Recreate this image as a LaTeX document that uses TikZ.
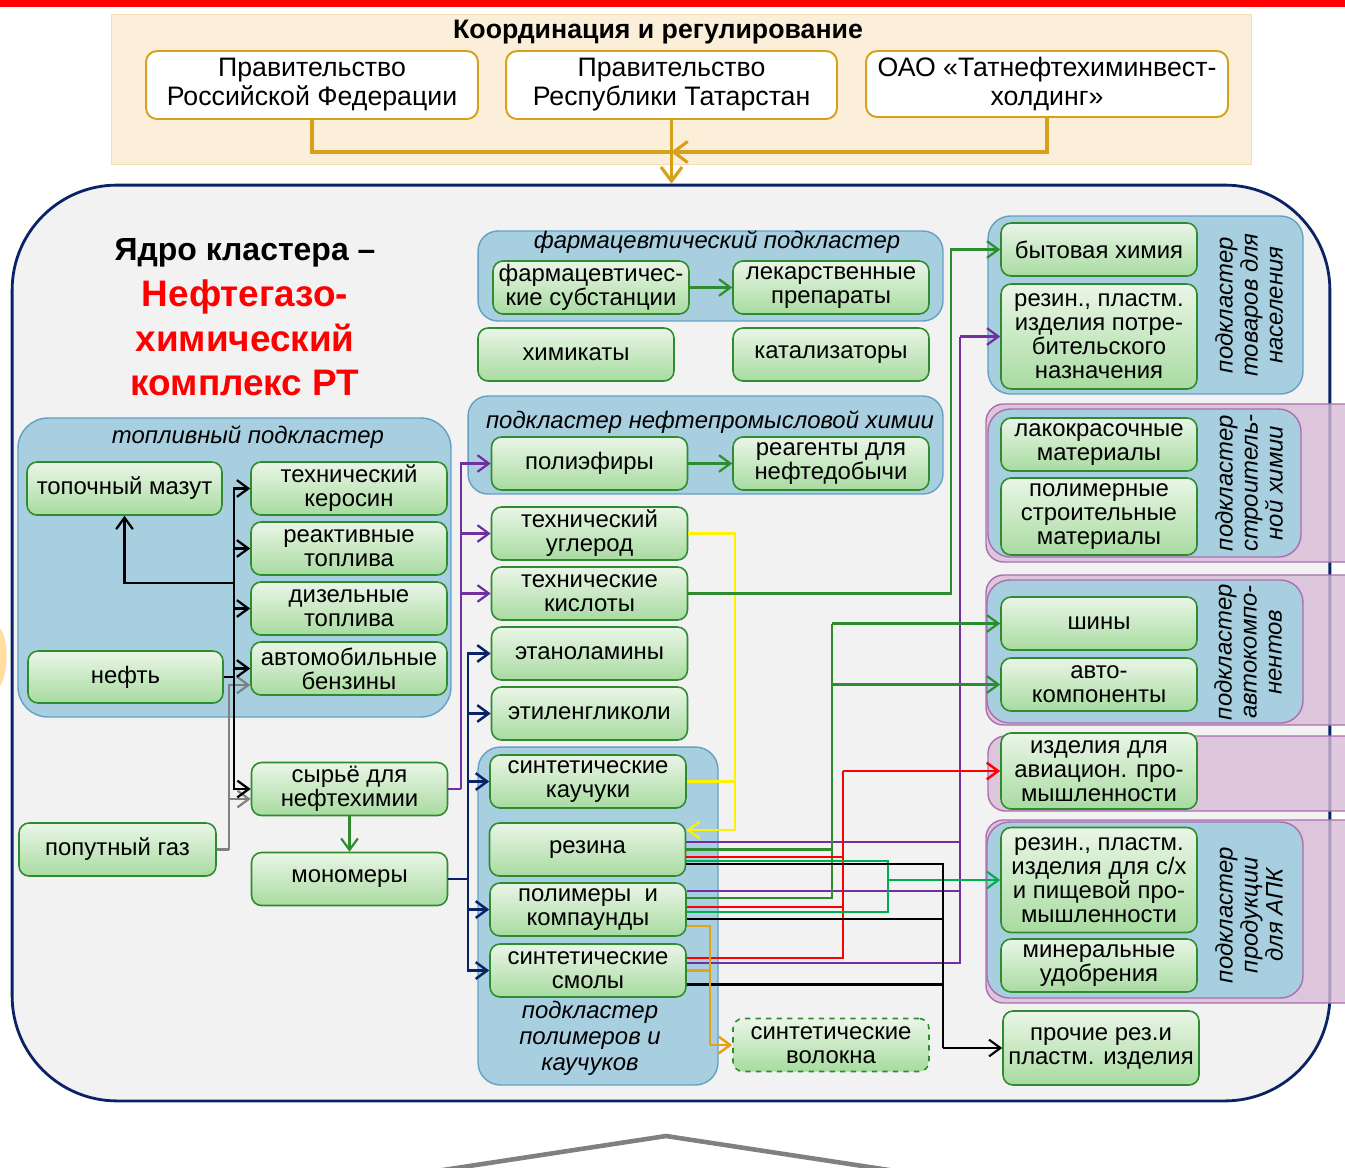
\documentclass[tikz,border=0pt]{standalone}
\usepackage{fontspec}
\setmainfont{Liberation Sans}
\usetikzlibrary{arrows.meta}

\definecolor{gold}{RGB}{214,160,26}
\definecolor{beige}{RGB}{252,239,217}
\definecolor{beigeline}{RGB}{246,222,180}
\definecolor{navy}{RGB}{10,35,100}
\definecolor{coreback}{RGB}{242,242,242}
\definecolor{subblue}{RGB}{168,207,223}
\definecolor{subline}{RGB}{100,160,195}
\definecolor{pinkpan}{RGB}{216,188,215}
\definecolor{pinkline}{RGB}{170,110,175}
\definecolor{boxline}{RGB}{46,140,46}
\definecolor{boxtop}{RGB}{234,246,231}
\definecolor{boxbot}{RGB}{168,219,160}
\definecolor{lila}{RGB}{112,48,160}
\definecolor{lgreen}{RGB}{0,176,80}
\definecolor{orng}{RGB}{230,160,20}
\definecolor{blob}{RGB}{255,222,160}

\newcommand{\boxfont}{\fontsize{13.6}{13.7}\selectfont}

\tikzset{
  gbox/.style={draw=boxline, line width=0.9pt, rounded corners=0.2cm, top color=boxtop, bottom color=boxbot,
    align=center, minimum width=3.92cm, minimum height=1.06cm, inner sep=1pt},
  gov/.style={draw=gold, line width=1.1pt, fill=white, rounded corners=0.22cm, align=center,
    minimum height=1.36cm, font=\fontsize{15.2}{16.5}\selectfont},
  subcl/.style={draw=subline, line width=0.8pt, fill=subblue, rounded corners=0.45cm, inner sep=0pt},
  pinkpanel/.style={draw=pinkline, line width=0.8pt, fill=pinkpan, fill opacity=0.8, rounded corners=0.35cm},
  lbl/.style={font=\boxfont\itshape, align=center},
  vlbl/.style={font=\fontsize{13.6}{14.2}\selectfont\itshape, align=center, rotate=90},
  conn/.style={line width=1.25pt},
  arr/.style={-{Straight Barb[length=6.5pt,width=9.5pt]}},
  goldln/.style={draw=gold, line width=1.8pt},
  goldarr/.style={-{Straight Barb[length=8pt,width=12pt]}},
  blk/.style={conn, draw=black, line width=1.3pt},
  gry/.style={conn, draw=gray},
  purp/.style={conn, draw=lila},
  nvy/.style={conn, draw=navy, line width=1.4pt},
  ylw/.style={conn, draw=yellow},
  dgr/.style={conn, draw=boxline},
  rd/.style={conn, draw=red, line width=1.4pt},
  lgr/.style={conn, draw=lgreen},
  org/.style={conn, draw=orng, line width=1.4pt},
}

\begin{document}
\begin{tikzpicture}[x=0.02cm, y=-0.02cm, font=\boxfont]
%\draw[help lines] (0,0) grid (1345,1167);
\useasboundingbox (0,0) rectangle (1345,1167);
\fill[red] (0,0) rectangle (1345,7);
\fill[blob] (0,628) .. controls (9,640) and (9,672) .. (0,686) -- cycle;

% coordination
\draw[beigeline, fill=beige] (111,14) rectangle (1251,164);
\node (coord) [font=\bfseries\fontsize{15.2}{17}\selectfont] at (658,32) {Координация и регулирование};
\node (govrf) [gov, minimum width=6.64cm] at (312,85) {Правительство\\Российской Федерации};
\node (govrt) [gov, minimum width=6.62cm] at (671.5,85) {Правительство\\Республики Татарстан};
\node (tatneft) [gov, minimum width=7.24cm, minimum height=1.32cm] at (1047,84) {ОАО «Татнефтехиминвест-\\холдинг»};

% core
\node (core) [draw=navy, line width=1.6pt, fill=coreback, rounded corners=2.1cm,
  minimum width=26.36cm, minimum height=18.32cm, inner sep=0pt] at (671,643) {};
\coordinate (gj) at (671,152);
\draw[goldln] (govrf.south) |- (gj);
\draw[goldln, goldarr] (govrt.south) -- (govrt.south |- core.north);
\draw[goldln, goldarr] (tatneft.south) |- (gj);

\node (coretitle) [font=\bfseries\fontsize{18.2}{21}\selectfont] at (245,253) {Ядро кластера –};
\node (corename) [text=red, align=center, font=\bfseries\fontsize{21}{25.2}\selectfont] at (245,338) {Нефтегазо-\\химический\\комплекс РТ};

% subclusters
\node (fuel) [subcl, rounded corners=0.6cm, minimum width=8.66cm, minimum height=5.98cm] at (234.5,567.5) {};
\node (fuellbl) [lbl] at (248,437) {топливный подкластер};
\node (pharma) [subcl, rounded corners=0.4cm, minimum width=9.3cm, minimum height=1.8cm] at (710.5,276) {};
\node (pharmalbl) [lbl] at (717,242) {фармацевтический подкластер};
\node (oilfield) [subcl, rounded corners=0.4cm, minimum width=9.5cm, minimum height=1.96cm] at (705.5,445) {};
\node (oilfieldlbl) [lbl] at (710,422) {подкластер нефтепромысловой химии};
\node (polycl) [subcl, minimum width=4.8cm, minimum height=6.76cm] at (598,916) {};
\node (polycllbl) [lbl, font=\fontsize{13.6}{14.8}\selectfont\itshape] at (590,1038) {подкластер\\полимеров и\\каучуков};

\node (people) [subcl, minimum width=6.3cm, minimum height=3.56cm] at (1145.5,305) {};
\node (peoplelbl) [vlbl] at (1249,305) {подкластер\\товаров для\\населения};
\draw[pinkpanel] (986,404) rectangle (1375,562);
\node (build) [subcl, draw=pinkline, minimum width=6.26cm, minimum height=2.96cm] at (1144.5,483) {};
\node (buildlbl) [vlbl] at (1249,483) {подкластер\\строитель-\\ной химии};
\draw[pinkpanel] (986,575) rectangle (1375,725);
\node (auto) [subcl, draw=pinkline, minimum width=6.32cm, minimum height=2.86cm] at (1145,651.5) {};
\node (autolbl) [vlbl] at (1248,652) {подкластер\\автокомпо-\\нентов};
\draw[pinkpanel] (988,736) rectangle (1375,811);
\draw[pinkpanel] (986,820) rectangle (1375,1003);
\node (agrocl) [subcl, draw=pinkline, minimum width=6.32cm, minimum height=3.52cm] at (1145,910) {};
\node (agrolbl) [vlbl] at (1249,915) {подкластер\\продукции\\для АПК};

% fuel
\node (mazut) [gbox, minimum width=3.9cm] at (124.5,488.5) {топочный мазут};
\node (kerosin) [gbox] at (349,488.5) {технический\\керосин};
\node (jet) [gbox] at (349,548.5) {реактивные\\топлива};
\node (diesel) [gbox] at (349,608.5) {дизельные\\топлива};
\node (petrol) [gbox] at (349,668.5) {автомобильные\\бензины};
\node (neft) [gbox, minimum width=3.9cm, minimum height=1.04cm] at (125.5,677) {нефть};
\node (gas) [gbox, minimum width=3.94cm] at (117.5,849.5) {попутный газ};
\node (feed) [gbox] at (349.5,789) {сырьё для\\нефтехимии};
\node (mono) [gbox] at (349.5,879) {мономеры};

% middle
\node (pharmsub) [gbox] at (591,287.5) {фармацевтичес-\\кие субстанции};
\node (drugs) [gbox] at (831,287.5) {лекарственные\\препараты};
\node (chem) [gbox] at (576,354.5) {химикаты};
\node (catal) [gbox] at (831,354.5) {катализаторы};
\node (polyester) [gbox] at (589.5,463.5) {полиэфиры};
\node (reagent) [gbox] at (831,463.5) {реагенты для\\нефтедобычи};
\node (carbon) [gbox] at (589.5,533.5) {технический\\углерод};
\node (acids) [gbox] at (589.5,593.5) {технические\\кислоты};
\node (ethanol) [gbox] at (589.5,653.5) {этаноламины};
\node (glycol) [gbox] at (589.5,713.5) {этиленгликоли};
\node (rubber) [gbox] at (588,781.5) {синтетические\\каучуки};
\node (rezina) [gbox] at (587.5,849.5) {резина};
\node (polym) [gbox] at (588,909.5) {полимеры~~и\\компаунды};
\node (resin) [gbox] at (588,970.5) {синтетические\\смолы};
\node (fibre) [gbox, dashed] at (831,1045) {синтетические\\волокна};

% right
\node (household) [gbox] at (1099,249.5) {бытовая химия};
\node (consumer) [gbox, minimum height=2.1cm] at (1099,336.5) {резин., пластм.\\изделия потре-\\бительского\\назначения};
\node (paint) [gbox] at (1099,444.5) {лакокрасочные\\материалы};
\node (buildmat) [gbox, minimum height=1.54cm] at (1099,516.5) {полимерные\\строительные\\материалы};
\node (tyres) [gbox] at (1099,623.5) {шины};
\node (autoparts) [gbox] at (1099,684.5) {авто-\\компоненты};
\node (aviation) [gbox, minimum height=1.52cm] at (1099,771) {изделия для\\авиацион. про-\\мышленности};
\node (agro) [gbox, minimum height=2.1cm] at (1099,880) {резин., пластм.\\изделия для с/х\\и пищевой про-\\мышленности};
\node (fert) [gbox] at (1099,965.5) {минеральные\\удобрения};
\node (other) [gbox, minimum height=1.48cm] at (1101,1048) {прочие рез.и\\пластм. изделия};

% fuel links
\coordinate (fb) at (234,677);
\coordinate (fm) at (234,583);
\coordinate (gj2) at (229,849.5);
\draw[gry] (gas.east) -- (gj2);
\draw[gry, arr] (gj2) |- ([yshift=-0.33cm]petrol.west);
\draw[gry, arr] (gj2) |- ([yshift=-0.2cm]feed.west);
\draw[blk] (neft.east) -- (fb);
\draw[blk, arr] (fb) |- (kerosin.west);
\draw[blk, arr] (fb) |- (jet.west);
\draw[blk, arr] (fb) |- (diesel.west);
\draw[blk, arr] (fb) |- (petrol.west);
\draw[blk, arr] (fb) |- (feed.west);
\draw[blk, arr] (fm) -| (mazut.south);
\path
(feed) edge[dgr, arr] (mono)
(pharmsub) edge[dgr, arr] (drugs)
(polyester) edge[dgr, arr] (reagent);

% feed and monomers
\coordinate (pb) at (461,789);
\draw[purp] (feed.east) -- (pb);
\draw[purp, arr] (pb) |- (polyester.west);
\draw[purp, arr] (pb) |- (carbon.west);
\draw[purp, arr] (pb) |- (acids.west);
\coordinate (nb) at (468,879);
\draw[nvy] (mono.east) -- (nb);
\draw[nvy, arr] (nb) |- (ethanol.west);
\draw[nvy, arr] (nb) |- (glycol.west);
\draw[nvy, arr] (nb) |- (rubber.west);
\draw[nvy, arr] (nb) |- (polym.west);
\draw[nvy, arr] (nb) |- (resin.west);

% products
\coordinate (yb) at (735,781.5);
\draw[ylw] (rubber.east) -- (yb);
\draw[ylw, arr] (carbon.east) -| (yb) |- ([yshift=0.39cm]rezina.east);
\coordinate (hh) at (951,593.5);
\draw[dgr, arr] (acids.east) -- (hh) |- (household.west);

\coordinate (vl) at (960,336.5);
\draw[purp] ([yshift=0.15cm]rezina.east) -| (vl);
\draw[purp] ([yshift=0.37cm]polym.east) -| (vl);
\draw[purp] ([yshift=0.15cm]resin.east) -| (vl);
\draw[purp, arr] (vl) -- (consumer.west);

\coordinate (vg) at (832,623.5);
\draw[dgr] (rezina.east) -| (vg);
\draw[dgr] ([yshift=0.23cm]polym.east) -| (vg);
\draw[dgr, arr] (vg) -- (tyres.west);
\draw[dgr, arr] (vg |- autoparts.west) -- (autoparts.west);

\coordinate (vr) at (843,771);
\draw[rd] ([yshift=-0.15cm]rezina.east) -| (vr);
\draw[rd] ([yshift=0.05cm]polym.east) -| (vr);
\draw[rd] ([yshift=0.25cm]resin.east) -| (vr);
\draw[rd, arr] (vr) -- (aviation.west);

\coordinate (vlg) at (888,880);
\draw[lgr] ([yshift=-0.23cm]rezina.east) -| (vlg);
\draw[lgr] ([yshift=-0.05cm]polym.east) -| (vlg);
\draw[lgr, arr] (vlg) -- (agro.west);

\coordinate (vb) at (943,1048);
\draw[blk, line width=1.2pt] ([yshift=-0.29cm]rezina.east) -| (vb);
\draw[blk, line width=1.2pt] ([yshift=-0.19cm]polym.east) -| (vb);
\draw[blk, line width=1.2pt] ([yshift=-0.28cm]resin.east) -| (vb);
\draw[blk, line width=1.2pt, arr] (vb) -- (other.west);

\coordinate (vo) at (710,1045);
\draw[org] ([yshift=-0.33cm]polym.east) -| (vo);
\draw[org] (resin.east) -| (vo);
\draw[org, arr] (vo) -- (fibre.west);

\draw[gray, line width=2.6pt] (430,1172) -- (666,1136) -- (902,1172);
\end{tikzpicture}
\end{document}
